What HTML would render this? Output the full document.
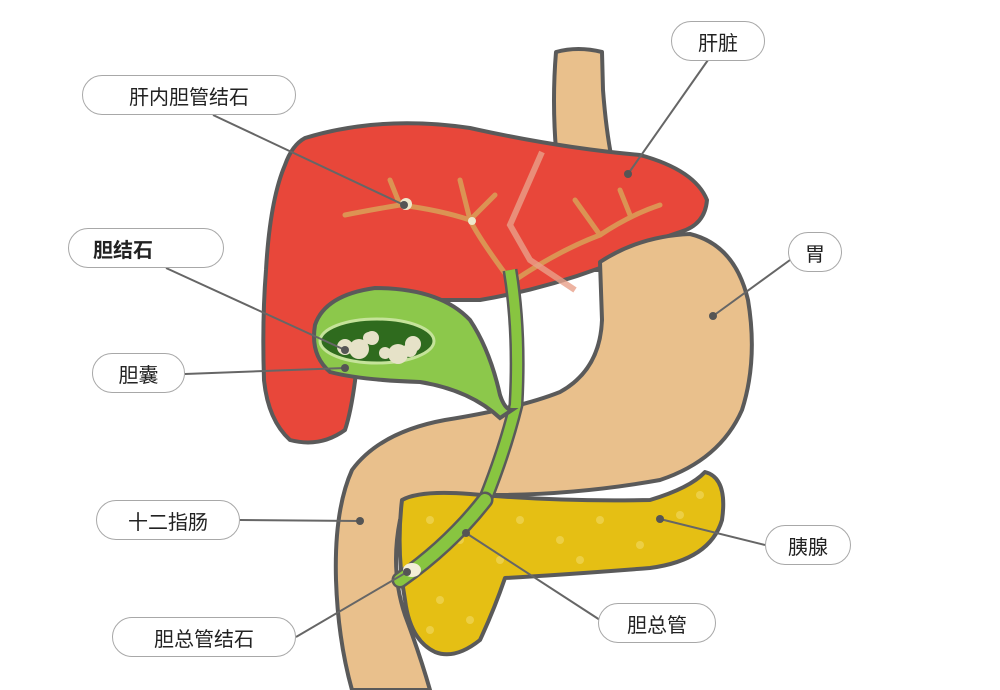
<!DOCTYPE html>
<html><head><meta charset="utf-8"><style>
html,body{margin:0;padding:0;background:#fff;width:1000px;height:690px;overflow:hidden}
.lb{position:absolute;box-sizing:border-box;border:1px solid #a8a8a8;border-radius:20px;background:#fff;font-family:"Liberation Sans","Noto Sans CJK SC",sans-serif;font-size:20px;color:#222;display:flex;align-items:center;justify-content:center;height:40px}
</style></head><body>
<svg width="1000" height="690" style="position:absolute;left:0;top:0">
<g stroke="#5a5a5a" stroke-width="4" stroke-linejoin="round">
<!-- esophagus -->
<path d="M556,52 Q578,46 602,52 L603,90 Q606,130 612,160 L600,270 L560,270 L556,150 Q552,100 556,52Z" fill="#e9c08c"/>
<!-- liver -->
<path d="M305,138 Q380,115 470,128 Q560,148 640,155 Q695,170 707,200 Q705,225 680,232 Q640,245 600,268 Q540,290 480,300 Q450,300 440,300 L360,330 Q355,400 345,430 Q320,448 290,440 Q268,420 264,380 Q262,320 266,270 Q270,200 285,165 Q292,145 305,138Z" fill="#e8473a"/>
<!-- stomach + duodenum -->
<path d="M600,262 Q640,236 690,234 Q735,245 748,300 Q758,360 742,410 Q720,460 660,480 Q570,496 480,495 Q420,496 400,520 Q390,570 405,615 Q420,655 430,690 L352,690 Q338,640 336,580 Q334,510 352,470 Q380,432 445,420 Q520,408 560,392 Q600,370 602,320 Z" fill="#e9c08c"/>
<!-- pancreas -->
<path d="M402,500 Q420,490 470,494 Q560,502 650,500 Q690,488 705,472 Q728,478 722,520 Q710,560 650,568 Q560,575 505,578 Q494,610 480,640 Q455,660 435,652 Q410,640 405,600 Q396,550 402,500Z" fill="#e5bf14"/>
</g>
<!-- pancreas dots -->
<g fill="#f0d65a" opacity="0.7">
<circle cx="430" cy="520" r="4"/><circle cx="460" cy="540" r="4"/><circle cx="520" cy="520" r="4"/><circle cx="560" cy="540" r="4"/><circle cx="600" cy="520" r="4"/><circle cx="640" cy="545" r="4"/><circle cx="680" cy="515" r="4"/><circle cx="700" cy="495" r="4"/><circle cx="440" cy="600" r="4"/><circle cx="470" cy="620" r="4"/><circle cx="430" cy="630" r="4"/><circle cx="580" cy="560" r="4"/><circle cx="500" cy="560" r="4"/></g>
<!-- intrahepatic ducts -->
<g stroke="#d9a65a" stroke-width="5" fill="none" stroke-linecap="round" opacity="0.8">
<path d="M510,280 Q480,240 470,220 Q440,210 400,205 Q370,210 345,215"/>
<path d="M400,205 L390,180"/><path d="M470,220 L460,180"/><path d="M470,220 L495,195"/>
<path d="M515,280 Q560,250 600,235 Q630,215 660,205"/><path d="M600,235 L575,200"/><path d="M630,215 L620,190"/>
</g>
<path d="M542,152 L510,225 L530,260 L575,290" stroke="#e8a08a" stroke-width="6" fill="none" opacity="0.8"/>
<!-- stones in ducts -->
<circle cx="406" cy="204" r="6" fill="#eee8cc"/><circle cx="472" cy="221" r="4" fill="#eee8cc"/>
<!-- bile ducts -->
<path d="M510,270 Q520,330 516,405 Q505,450 485,500" stroke="#5a5a5a" stroke-width="15" fill="none"/>
<path d="M510,270 Q520,330 516,405 Q505,450 485,500" stroke="#88c540" stroke-width="10" fill="none"/>
<path d="M485,500 Q450,545 400,580" stroke="#5a5a5a" stroke-width="17" fill="none" stroke-linecap="round"/>
<path d="M485,500 Q450,545 400,580" stroke="#88c540" stroke-width="12" fill="none" stroke-linecap="round"/>
<ellipse cx="412" cy="570" rx="9" ry="7" fill="#f3eed8"/>
<!-- gallbladder -->
<path d="M315,325 Q325,295 375,288 Q440,288 470,320 Q490,350 500,395 Q505,410 512,410 L500,418 Q470,390 420,382 Q360,380 330,372 Q310,355 315,325Z" fill="#8cc84b" stroke="#5a5a5a" stroke-width="4"/>
<ellipse cx="377" cy="341" rx="57" ry="22" fill="#2f6b1e" stroke="#c5e39a" stroke-width="3"/>
<g fill="#e6e2c8"><circle cx="345" cy="347" r="8"/><circle cx="359" cy="349" r="10"/><circle cx="369" cy="338" r="6"/><circle cx="385" cy="353" r="6"/><circle cx="398" cy="354" r="10"/><circle cx="410" cy="350" r="7"/><circle cx="413" cy="344" r="8"/><circle cx="372" cy="338" r="7"/></g>
<!-- leader lines -->
<g stroke="#666" stroke-width="2" fill="none">
<line x1="708" y1="60" x2="628" y2="174"/>
<line x1="213" y1="115" x2="404" y2="205"/>
<line x1="166" y1="268" x2="345" y2="350"/>
<line x1="185" y1="374" x2="345" y2="368"/>
<line x1="790" y1="260" x2="713" y2="316"/>
<line x1="240" y1="520" x2="360" y2="521"/>
<line x1="765" y1="545" x2="660" y2="519"/>
<line x1="600" y1="620" x2="466" y2="533"/>
<line x1="296" y1="637" x2="407" y2="572"/>
</g>
<g fill="#555"><circle cx="628" cy="174" r="4"/><circle cx="404" cy="205" r="4"/><circle cx="345" cy="350" r="4"/><circle cx="345" cy="368" r="4"/><circle cx="713" cy="316" r="4"/><circle cx="360" cy="521" r="4"/><circle cx="660" cy="519" r="4"/><circle cx="466" cy="533" r="4"/><circle cx="407" cy="572" r="4"/></g>
</svg>
<div class="lb" style="left:671px;top:21px;width:94px">肝脏</div>
<div class="lb" style="left:82px;top:75px;width:214px">肝内胆管结石</div>
<div class="lb" style="left:68px;top:228px;width:156px;font-weight:bold;justify-content:flex-start;padding-left:24px">胆结石</div>
<div class="lb" style="left:92px;top:353px;width:93px">胆囊</div>
<div class="lb" style="left:788px;top:232px;width:54px">胃</div>
<div class="lb" style="left:96px;top:500px;width:144px">十二指肠</div>
<div class="lb" style="left:765px;top:525px;width:86px">胰腺</div>
<div class="lb" style="left:598px;top:603px;width:118px">胆总管</div>
<div class="lb" style="left:112px;top:617px;width:184px">胆总管结石</div>
</body></html>
